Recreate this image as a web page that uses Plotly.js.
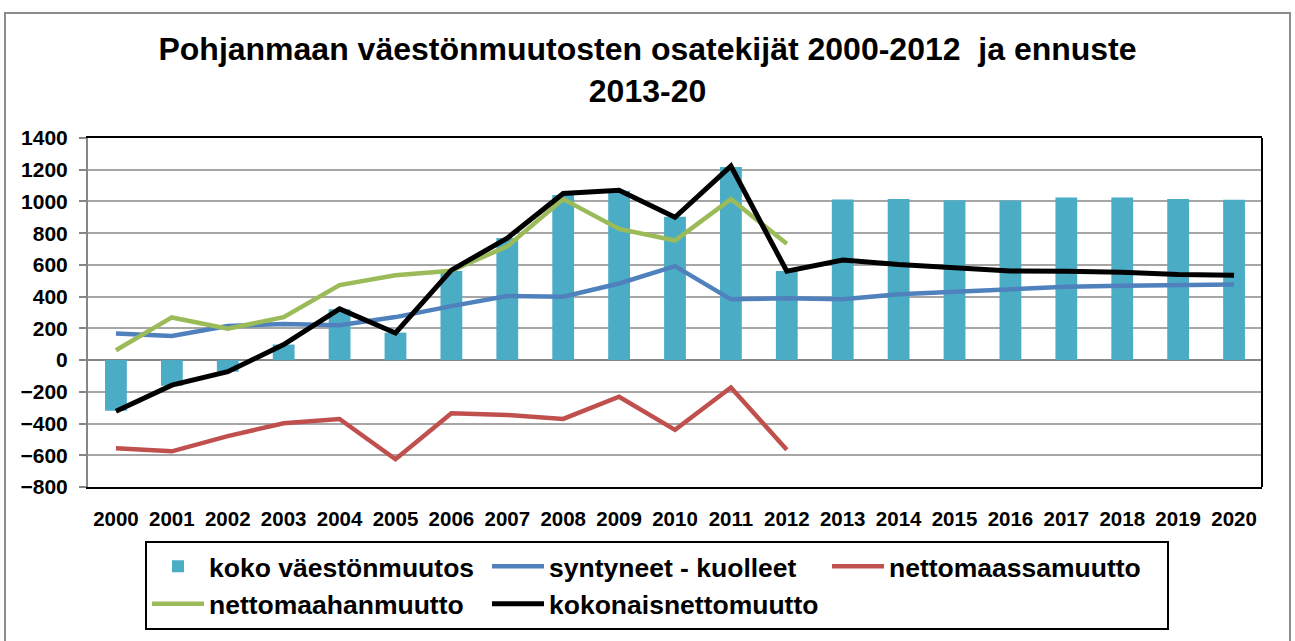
<!DOCTYPE html>
<html>
<head>
<meta charset="utf-8">
<script src="https://cdn.plot.ly/plotly-3.0.1.min.js"></script>
<style>html,body{margin:0;padding:0;background:#fff;}#chart{width:1295px;height:641px;}</style>
</head>
<body>
<div id="chart"></div>
<script>
// Data
const years = ['2000','2001','2002','2003','2004','2005','2006','2007','2008','2009','2010','2011','2012','2013','2014','2015','2016','2017','2018','2019','2020'];
const yearsHist = years.slice(0, 13);
const kokoVaestonmuutos = [-320,-162,-73,98,321,173,562,769,1040,1067,904,1217,562,1012,1015,1008,1006,1025,1025,1015,1010];
const syntyneetKuolleet = [167,152,215,227,219,271,340,404,400,483,592,383,390,383,415,431,446,462,469,475,477];
const nettomaassamuutto = [-556,-575,-479,-398,-371,-625,-335,-346,-371,-231,-440,-173,-565];
const nettomaahanmuutto = [62,269,198,271,473,535,563,717,1015,827,754,1015,733];
const kokonaisnettomuutto = [-323,-158,-73,98,323,171,567,769,1050,1071,900,1223,560,631,602,581,562,560,554,540,535];
const yTicks = [-800,-600,-400,-200,0,200,400,600,800,1000,1200,1400];
const boundaryTicks = [0.5,1.5,2.5,3.5,4.5,5.5,6.5,7.5,8.5,9.5,10.5,11.5,12.5,13.5,14.5,15.5,16.5,17.5,18.5,19.5];

const FONT = 'Liberation Sans, Arial, sans-serif';

const traces = [
  {type:'bar', name:'koko väestönmuutos', x:years, y:kokoVaestonmuutos, marker:{color:'#4bacc6'}},
  {type:'scatter', mode:'lines', name:'syntyneet - kuolleet', x:years, y:syntyneetKuolleet, line:{color:'#4f81bd', width:4.5}},
  {type:'scatter', mode:'lines', name:'nettomaassamuutto', x:yearsHist, y:nettomaassamuutto, line:{color:'#c0504d', width:4.5}},
  {type:'scatter', mode:'lines', name:'nettomaahanmuutto', x:yearsHist, y:nettomaahanmuutto, line:{color:'#9bbb59', width:4.5}},
  {type:'scatter', mode:'lines', name:'kokonaisnettomuutto', x:years, y:kokonaisnettomuutto, line:{color:'#000000', width:5}}
];

const layout = {
  width:1295, height:641,
  margin:{l:88, r:33, t:138, b:151},
  paper_bgcolor:'#ffffff', plot_bgcolor:'#ffffff',
  font:{family:FONT, color:'#000', weight:'bold'},
  title:{
    text:'Pohjanmaan väestönmuutosten osatekijät 2000-2012  ja ennuste<br>2013-20',
    font:{family:FONT, size:32, weight:'bold', color:'#000'},
    x:0.5, xanchor:'center', xref:'container',
    y:1-60/641, yanchor:'top', yref:'container'
  },
  bargap:0.61,
  showlegend:true,
  legend:{
    orientation:'h',
    x:(145-88)/1174, xanchor:'left',
    y:(490-544)/352, yanchor:'top',
    itemwidth:52,
    entrywidth:273, entrywidthmode:'pixels',
    bordercolor:'#000', borderwidth:2,
    font:{family:FONT, size:26.5, weight:'bold', color:'#000'},
    traceorder:'normal'
  },
  xaxis:{
    type:'category',
    showgrid:false, zeroline:false,
    showline:true, linecolor:'#000', linewidth:2, mirror:true,
    ticks:'', ticklabelstandoff:12,
    tickfont:{family:FONT, size:20.5, weight:'bold', color:'#000'},
    fixedrange:true
  },
  xaxis2:{
    overlaying:'x', anchor:'free', position:800/2200,
    type:'linear', range:[-0.5, 20.5],
    tickmode:'array', tickvals:boundaryTicks,
    showticklabels:false, showgrid:false, zeroline:false, showline:false,
    ticks:'outside', ticklen:6, tickwidth:2, tickcolor:'#868686'
  },
  yaxis:{
    range:[-800,1400],
    tickmode:'array', tickvals:yTicks,
    showgrid:true, gridcolor:'#a6a6a6', gridwidth:2,
    zeroline:true, zerolinecolor:'#868686', zerolinewidth:2,
    showline:true, linecolor:'#868686', linewidth:2,
    ticks:'outside', ticklen:7, tickwidth:2, tickcolor:'#868686',
    ticklabelstandoff:7,
    tickfont:{family:FONT, size:21, weight:'bold', color:'#000'},
    fixedrange:true
  },
  shapes:[
    {type:'line', xref:'paper', yref:'paper', x0:1, x1:1, y0:0, y1:1, line:{color:'#000', width:2}},
    {type:'rect', xref:'paper', yref:'paper', x0:(5-88)/1174, x1:(1290-88)/1174, y0:(490-660)/352, y1:(490-12)/352, line:{color:'#8c8c8c', width:2}, fillcolor:'rgba(0,0,0,0)', layer:'below'}
  ]
};

Plotly.newPlot('chart', traces, layout, {displayModeBar:false, staticPlot:true});
</script>
</body>
</html>
